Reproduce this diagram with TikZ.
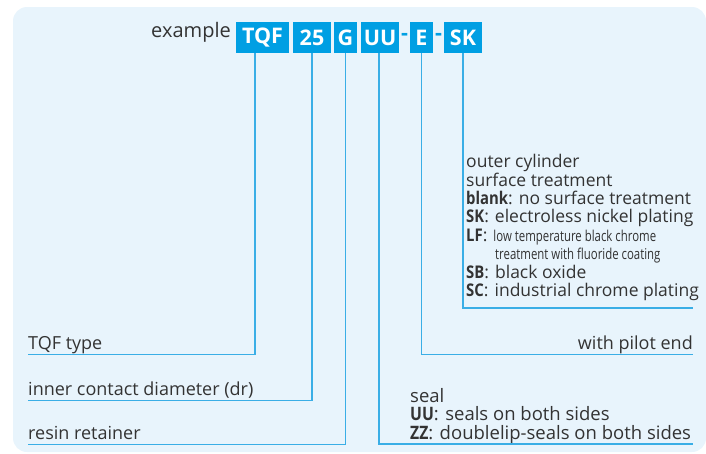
\documentclass[tikz,border=0pt]{standalone}
\usepackage{fontspec}
\setmainfont{Open Sans}
\usepackage{graphicx}
\usetikzlibrary{positioning}
\definecolor{bgblue}{HTML}{E8F4FC}
\definecolor{codeblue}{HTML}{009FE3}
\definecolor{leadblue}{HTML}{3AAEE6}
\definecolor{ink}{HTML}{333333}
\newcommand\condtext[1]{\scalebox{0.76}[1]{\fontsize{15}{14}\selectfont #1}}
\newcommand\key[1]{\scalebox{0.85}[1]{\bfseries #1}}

\begin{document}
\begin{tikzpicture}[x=1pt, y=-1pt,
    code/.style={fill=codeblue, text=white, font=\fontsize{21.5}{22}\selectfont\bfseries,
                 minimum height=31pt, inner sep=0pt},
    lead/.style={draw=leadblue, line width=1.3pt},
    lbl/.style={text=ink, font=\fontsize{18}{18.4}\selectfont, inner xsep=0pt,
                inner ysep=4.5pt, text depth=0pt, align=left}]
    % hintergrund
    \useasboundingbox (0,0) rectangle (706,453);
    \fill[bgblue, rounded corners=14pt] (13,7) rectangle (706,452);

    % bestellbeispiel
    \node[lbl, anchor=base east, inner ysep=0pt, font=\fontsize{20}{20}\selectfont] (ex) at (231,37) {example};
    \node[code, minimum width=53pt] (tqf) at (262.5,37.5) {TQF};
    \node[code, minimum width=38pt] (size) at (312,37.5) {25};
    \node[code, minimum width=23pt] (ret) at (345.5,37.5) {G};
    \node[code, minimum width=38pt] (seal) at (380,37.5) {UU};
    \node[code, minimum width=23pt] (pilot) at (421.5,37.5) {E};
    \node[code, minimum width=38pt] (surf) at (463,37.5) {SK};
    \node[code, fill=none, text=codeblue] (d1) at (404.5,37) {-};
    \node[code, fill=none, text=codeblue] (d2) at (438.5,37) {-};

    % erklaerungen
    \node[lbl, anchor=base west] (typetxt) at (28,349.5) {TQF type};
    \node[lbl, anchor=base west] (sizetxt) at (28,395.5) {inner contact diameter (dr)};
    \node[lbl, anchor=base west] (rettxt) at (28,439.5) {resin retainer};
    \node[lbl, anchor=base east] (pilottxt) at (693,349.5) {with pilot end};
    \node[lbl, anchor=south west, font=\fontsize{18.5}{18.6}\selectfont] (sealtxt) at (410,444) {seal\\
        \key{UU}: seals on both sides\\
        \key{ZZ}: doublelip-seals on both sides};
    \node[lbl, anchor=south west, inner ysep=11.3pt, font=\fontsize{17.5}{18.4}\selectfont] (surftxt) at (466,308) {outer cylinder\\
        surface treatment\\
        \key{blank}: no surface treatment\\
        \key{SK}: electroless nickel plating\\
        \key{LF}: \condtext{low temperature black chrome}\\
        \hspace*{29pt}\condtext{treatment with fluoride coating}\\
        \key{SB}: black oxide\\
        \key{SC}: industrial chrome plating};
    \coordinate (sealend) at (693,444);
    \coordinate (surfend) at (693,308);

    % fuehrungslinien
    \draw[lead] ([xshift=-7.5pt]tqf.south) |- (typetxt.south west);
    \draw[lead] (size.south) |- (sizetxt.south west);
    \draw[lead] (ret.south) |- (rettxt.south west);
    \draw[lead] ([xshift=-1pt]seal.south) |- (sealend);
    \draw[lead] (pilot.south) |- (pilottxt.south east);
    \draw[lead] (surf.south) |- (surfend);
\end{tikzpicture}
\end{document}
